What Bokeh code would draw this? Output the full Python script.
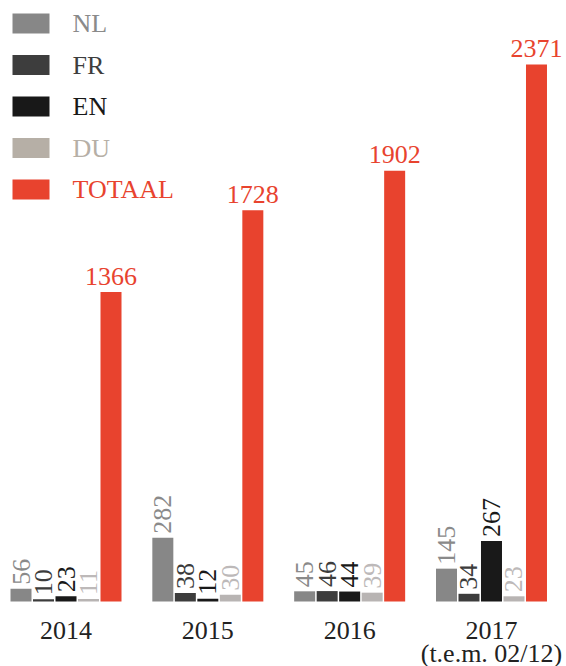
import math
from bokeh.plotting import figure
from bokeh.models import ColumnDataSource, Range1d
from bokeh.core.properties import value
from bokeh.embed import file_html
from bokeh.resources import INLINE

# ---------------- data ----------------
years = ["2014", "2015", "2016", "2017"]
year_notes = ["", "", "", "(t.e.m. 02/12)"]
series = ["NL", "FR", "EN", "DU", "TOTAAL"]
nl = [56, 282, 45, 145]
fr = [10, 38, 46, 34]
en = [23, 12, 44, 267]
du = [11, 30, 39, 23]
totaal = [1366, 1728, 1902, 2371]

bar_colors = ["#878787", "#3c3c3c", "#191919", "#b8b4b3", "#e8432e"]
label_colors = ["#8a8a8a", "#3c3c3c", "#191919", "#bdb9b9", "#e8432e"]
legend_colors = ["#878787", "#3d3d3d", "#181818", "#b6afa6", "#e8432e"]
legend_text_colors = ["#8a8a8a", "#3d3d3d", "#181818", "#b6afa6", "#e8432e"]

FONT = "Liberation Serif"
FS = "26px"

# ---------------- layout ----------------
W, H = 566, 666
OFF = 0                 # page offset of canvas
PPX = 141.83            # px per year group
PPY = 537.0 / 2371.0    # px per unit
BASE_PY = 601.0         # page y of baseline
X0 = -(65.5 - OFF) / PPX
X1 = X0 + W / PPX
Y_TOP = (BASE_PY - OFF) / PPY
Y_BOT = Y_TOP - H / PPY

def dx(px):
    return X0 + (px - OFF) / PPX

def dy(py):
    return Y_TOP - (py - OFF) / PPY

STEP = 22.5 / PPX
BW = 21.0 / PPX

p = figure(width=W, height=H, x_range=Range1d(X0, X1), y_range=Range1d(Y_BOT, Y_TOP),
           output_backend="svg", toolbar_location=None,
           x_axis_location=None, y_axis_location=None, min_border=0)
p.grid.visible = False
p.outline_line_color = None
p.background_fill_color = "white"
p.border_fill_color = "white"

all_vals = [nl, fr, en, du, totaal]
for k, (name, vals) in enumerate(zip(series, all_vals)):
    xs = [i + (k - 2) * STEP for i in range(len(years))]
    src = ColumnDataSource(dict(x=xs, top=vals, lab=[str(v) for v in vals]))
    p.vbar(x="x", top="top", bottom=0, width=BW, source=src,
           fill_color=bar_colors[k], line_color=None)
    if name == "TOTAAL":
        p.text(x="x", y="top", text="lab", source=src, text_font=value(FONT),
               text_font_size=FS, text_color=label_colors[k], text_align="center",
               text_baseline="middle", y_offset=-16)
    else:
        p.text(x="x", y="top", text="lab", source=src, text_font=value(FONT),
               text_font_size=FS, text_color=label_colors[k], text_align="left",
               text_baseline="middle", angle=math.pi / 2, y_offset=-4)

# year labels
ysrc = ColumnDataSource(dict(x=list(range(len(years))), y=[dy(629.5)] * len(years), t=years))
p.text(x="x", y="y", text="t", source=ysrc, text_font=value(FONT), text_font_size=FS,
       text_color="#222222", text_align="center", text_baseline="middle")
nsrc = ColumnDataSource(dict(x=list(range(len(years))), y=[dy(652.5)] * len(years), t=year_notes))
p.text(x="x", y="y", text="t", source=nsrc, text_font=value(FONT), text_font_size=FS,
       text_color="#222222", text_align="center", text_baseline="middle")

# legend
leg_y = [dy(23 + 41.5 * i) for i in range(len(series))]
lsrc = ColumnDataSource(dict(x=[dx(30.5)] * len(series), y=leg_y, c=legend_colors,
                             tx=[dx(72)] * len(series), t=series, tc=legend_text_colors))
p.rect(x="x", y="y", width=37, height=20, width_units="screen", height_units="screen",
       fill_color="c", line_color=None, source=lsrc)
p.text(x="tx", y="y", text="t", text_color="tc", source=lsrc, text_font=value(FONT),
       text_font_size=FS, text_align="left", text_baseline="middle")

open("out.html", "w").write(file_html(p, INLINE))
